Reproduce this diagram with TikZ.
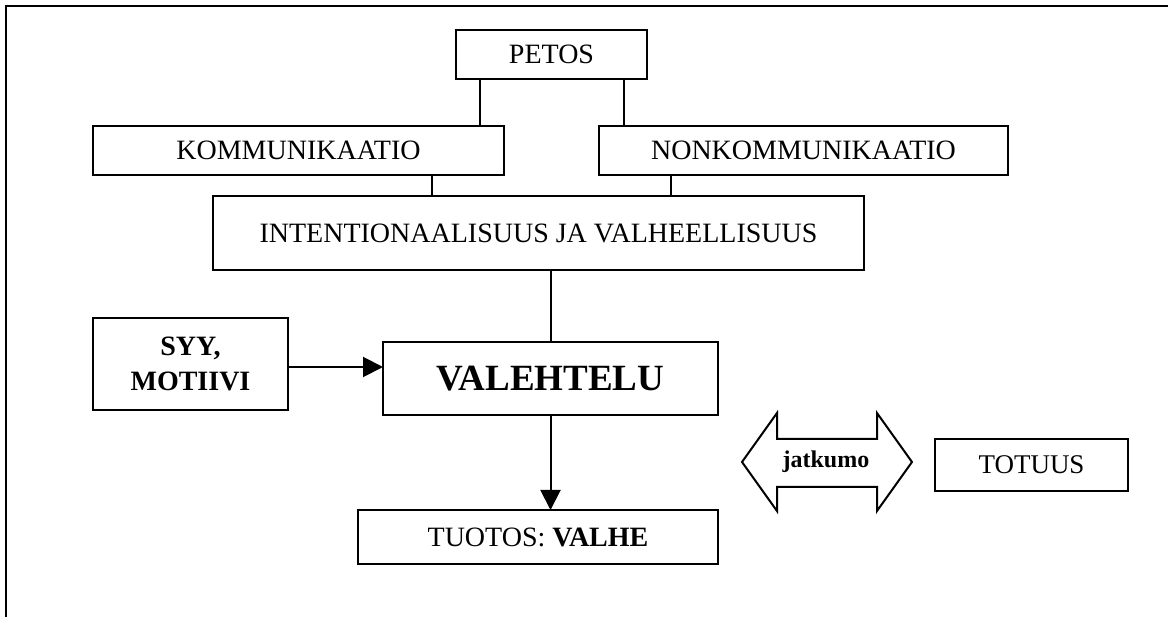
\documentclass[tikz,border=0pt]{standalone}
\usepackage{fontspec}
\setmainfont{Liberation Serif}
\usetikzlibrary{arrows.meta}
\begin{document}
\begin{tikzpicture}[x=1pt,y=-1pt,line width=2pt,
  box/.style={draw,rectangle,inner sep=0pt,outer sep=0pt,align=center,
    font=\fontsize{28}{34}\selectfont},
  link/.style={draw},
  flow/.style={draw,-{Triangle[length=20pt,width=20pt]}}]
  \useasboundingbox (0,0) rectangle (1168,617);
  % open frame: top and left edges only
  \draw (6,617) -- (6,6) -- (1168,6);

  \node[box,minimum width=191pt,minimum height=49pt] (petos) at (551.5,54.5) {PETOS};
  \node[box,minimum width=411pt,minimum height=49pt] (komm) at (298.5,150.5) {KOMMUNIKAATIO};
  \node[box,minimum width=409pt,minimum height=49pt] (nonkomm) at (803.5,150.5) {NONKOMMUNIKAATIO};
  \node[box,minimum width=651pt,minimum height=74pt] (intent) at (538.5,233) {INTENTIONAALISUUS JA VALHEELLISUUS};
  \node[box,minimum width=195pt,minimum height=92pt,font=\fontsize{28}{35}\selectfont\bfseries] (syy) at (190.5,364) {SYY,\\MOTIIVI};
  \node[box,minimum width=335pt,minimum height=73pt,font=\fontsize{37}{42}\selectfont\bfseries] (vale) at (550.5,378.5) {VALEHTELU};
  \node[box,minimum width=360pt,minimum height=54pt] (tuotos) at (538,537) {TUOTOS: \textbf{VALHE}};
  \node[box,minimum width=193pt,minimum height=52pt,font=\fontsize{27}{32}\selectfont] (totuus) at (1031.5,465) {TOTUUS};

  % connectors
  \draw[link] ([xshift=-71.5pt]petos.south) -- ([xshift=-71.5pt]petos.south |- komm.north);
  \draw[link] ([xshift=72.5pt]petos.south) -- ([xshift=72.5pt]petos.south |- nonkomm.north);
  \draw[link] ([xshift=133.5pt]komm.south) -- ([xshift=133.5pt]komm.south |- intent.north);
  \draw[link] ([xshift=-132.5pt]nonkomm.south) -- ([xshift=-132.5pt]nonkomm.south |- intent.north);
  \draw[link] (vale.north |- intent.south) -- (vale.north);
  \draw[flow] ([yshift=-3pt]syy.east) -- ([yshift=-3pt]syy.east -| vale.west);
  \draw[flow] (vale.south) -- (vale.south |- tuotos.north);

  % double-headed block arrow
  \draw[line join=miter] (742,462) -- (777,413) -- (777,439) -- (877,439) -- (877,413)
    -- (912,462) -- (877,511) -- (877,487) -- (777,487) -- (777,511) -- cycle;
  \node[font=\fontsize{24}{28}\selectfont\bfseries,inner sep=0pt] (jatkumo) at (826,462) {jatkumo};
\end{tikzpicture}
\end{document}
